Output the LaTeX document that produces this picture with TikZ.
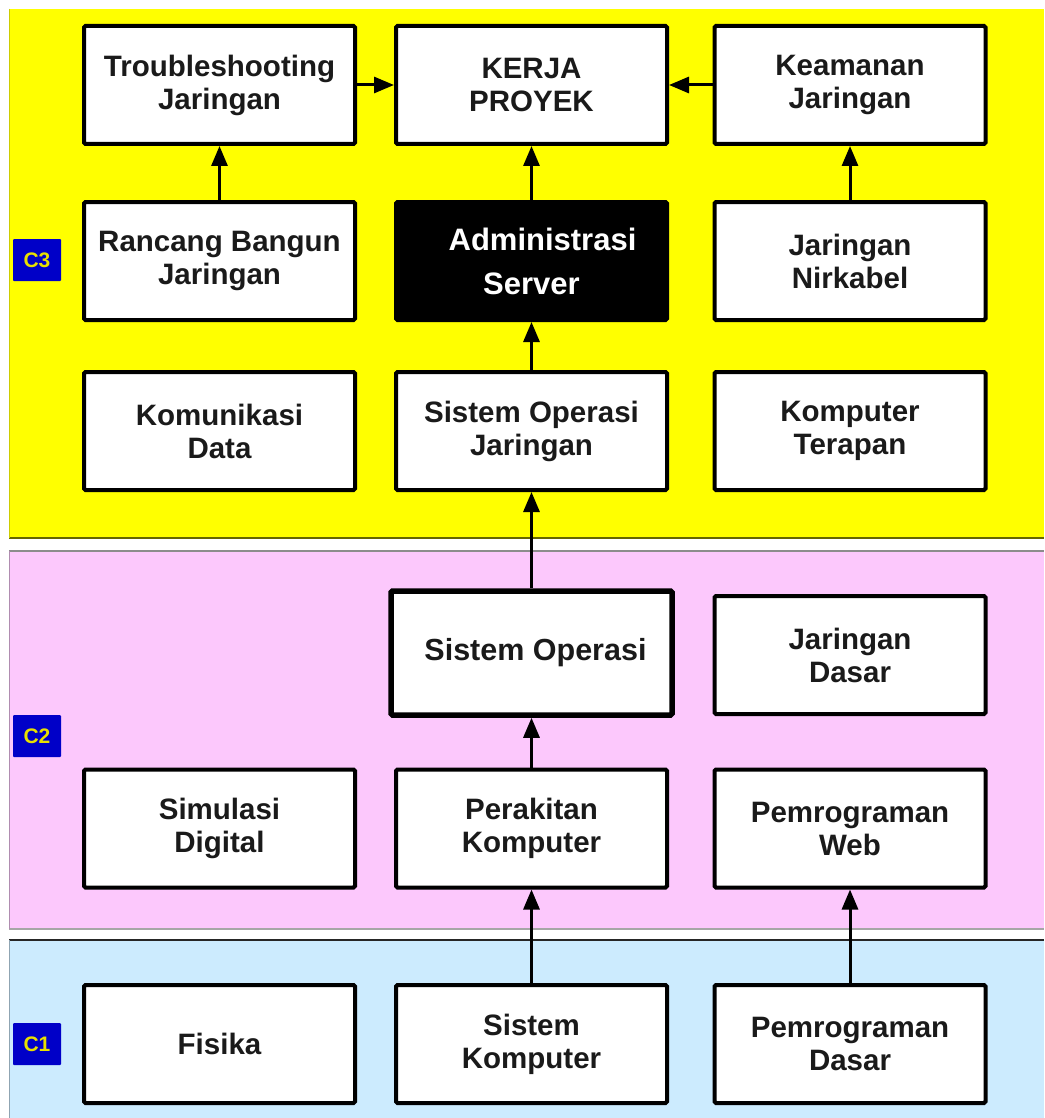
\documentclass[tikz,border=0pt]{standalone}
\usepackage{fontspec}
\setmainfont{Liberation Sans}
\usetikzlibrary{arrows.meta}
\definecolor{bandY}{HTML}{FFFF00}
\definecolor{bandP}{HTML}{FCC8FC}
\definecolor{bandB}{HTML}{CCEBFE}
\definecolor{tagB}{HTML}{0000C8}
\definecolor{tagY}{HTML}{E8E000}
\definecolor{txt}{HTML}{1A1A1A}
\begin{document}
\begin{tikzpicture}[x=1pt,y=-1pt,
  box/.style={draw=black, line width=4pt, fill=white, rounded corners=1.5pt,
    minimum width=271pt, minimum height=118pt, inner sep=0pt, align=center,
    text=txt, font=\fontsize{29.5}{33}\selectfont\bfseries},
  darkbox/.style={box, fill=black, text=white, font=\fontsize{31}{44}\selectfont\bfseries},
  bigbox/.style={box, line width=5.5pt, minimum width=281pt, minimum height=124pt,
    font=\fontsize{30.5}{36}\selectfont\bfseries},
  tag/.style={fill=tagB, text=tagY, minimum width=48pt, minimum height=42pt,
    inner sep=0pt, rounded corners=1pt, font=\fontsize{21}{24}\selectfont\bfseries},
  arr/.style={line width=3pt, -{Triangle[length=20pt,width=16pt]}}
]
\useasboundingbox (0,0) rectangle (1044,1118);
% bands
\fill[bandY] (9,9) rectangle (1044,538);
\draw[draw=black!60!bandY, line width=1.5pt] (9,538) -- (1044,538);
\draw[draw=bandY!80!black, line width=0.8pt] (9,9) -- (9,538);
\fill[bandP] (9,551) rectangle (1044,929);
\draw[draw=black!45, line width=1.5pt] (9,551) -- (1044,551);
\draw[draw=black!35, line width=1.2pt] (9,929) -- (1044,929);
\draw[draw=bandP!70!black, line width=0.8pt] (9,551) -- (9,929);
\fill[bandB] (9,940) rectangle (1044,1118);
\draw[draw=black!85, line width=1.5pt] (9,940) -- (1044,940);
\draw[draw=bandB!70!black, line width=0.8pt] (9,940) -- (9,1118);
% tags
\node[tag] (c3) at (37,260) {C3};
\node[tag] (c2) at (37,736) {C2};
\node[tag] (c1) at (37,1044) {C1};
% C3 boxes
\node[box] (ts) at (219.5,85) {Troubleshooting\\Jaringan};
\node[box] (kp) at (531.5,85) {KERJA\\PROYEK};
\node[box] (kj) at (850,85) {Keamanan\\Jaringan};
\node[box] (rb) at (219.5,261) {Rancang Bangun\\Jaringan};
\node[darkbox] (as) at (531.5,261) {\hspace*{22pt}Administrasi\\Server};
\node[box] (jn) at (850,261) {Jaringan\\Nirkabel};
\node[box] (kd) at (219.5,431) {Komunikasi\\Data};
\node[box] (soj) at (531.5,431) {Sistem Operasi\\Jaringan};
\node[box] (kt) at (850,431) {Komputer\\Terapan};
% C2 boxes
\node[bigbox] (so) at (531.5,653) {\hspace*{8pt}Sistem Operasi};
\node[box] (jd) at (850,655) {Jaringan\\Dasar};
\node[box] (sd) at (219.5,828.5) {Simulasi\\Digital};
\node[box] (pk) at (531.5,828.5) {Perakitan\\Komputer};
\node[box] (pw) at (850,828.5) {Pemrograman\\Web};
% C1 boxes
\node[box] (fi) at (219.5,1044) {Fisika};
\node[box] (sk) at (531.5,1044) {Sistem\\Komputer};
\node[box] (pd) at (850,1044) {Pemrograman\\Dasar};
% arrows
\draw[arr] (ts.east) -- (kp.west);
\draw[arr] (kj.west) -- (kp.east);
\draw[arr] (rb) -- (ts);
\draw[arr] (as) -- (kp);
\draw[arr] (jn) -- (kj);
\draw[arr] (soj) -- (as);
\draw[arr] (so) -- (soj);
\draw[arr] (pk) -- (so);
\draw[arr] (sk) -- (pk);
\draw[arr] (pd) -- (pw);
\end{tikzpicture}
\end{document}
